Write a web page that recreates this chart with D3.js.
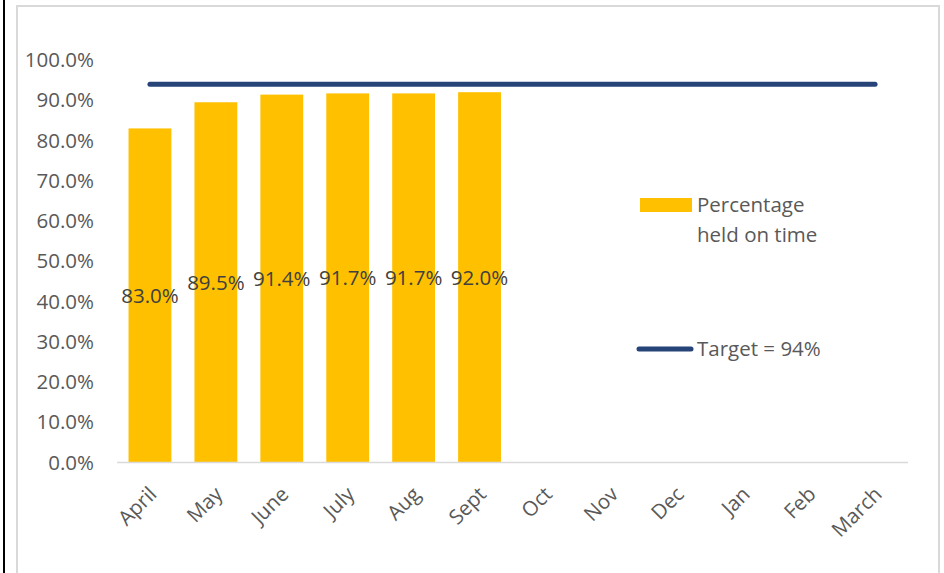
<!DOCTYPE html>
<html>
<head>
<meta charset="utf-8">
<script src="https://cdn.jsdelivr.net/npm/d3@7/dist/d3.min.js"></script>
<style>
  html, body { margin: 0; padding: 0; background: #ffffff; }
  svg { display: block; }
  text { font-family: "Open Sans", "Noto Sans", sans-serif; }
</style>
</head>
<body>
<svg id="chart" width="944" height="573"></svg>
<script>
// Monthly categories (financial year April–March)
const months = ["April", "May", "June", "July", "Aug", "Sept", "Oct", "Nov", "Dec", "Jan", "Feb", "March"];
// Percentage held on time, reported months only
const heldOnTime = [0.830, 0.895, 0.914, 0.917, 0.917, 0.920];
// Target level
const targetValue = 0.94;
// Y axis ticks
const yTicks = [0, 0.1, 0.2, 0.3, 0.4, 0.5, 0.6, 0.7, 0.8, 0.9, 1.0];
// Legend labels
const seriesLabel = ["Percentage", "held on time"];
const targetLabel = "Target = 94%";

const barColor = "#FFC000";
const targetColor = "#264478";
const textColor = "#595959";
const labelColor = "#404040";
const fontSize = "20.5px";

const svg = d3.select("#chart");

// Outer frame
svg.append("line")
  .attr("x1", 4).attr("x2", 4).attr("y1", 0).attr("y2", 573)
  .attr("stroke", "#000").attr("stroke-width", 2);
svg.append("path")
  .attr("d", "M17,580 V6 H939 V580")
  .attr("fill", "none").attr("stroke", "#d9d9d9").attr("stroke-width", 2);

const plot = { left: 117, right: 908, top: 60, bottom: 462.5 };

const x = d3.scaleBand()
  .domain(months)
  .range([plot.left, plot.right])
  .paddingInner(0.35)
  .paddingOuter(0.175);

const y = d3.scaleLinear()
  .domain([0, 1])
  .range([plot.bottom, plot.top]);

// Bars
svg.append("g")
  .selectAll("rect")
  .data(heldOnTime)
  .join("rect")
  .attr("x", (d, i) => x(months[i]))
  .attr("y", d => y(d))
  .attr("width", x.bandwidth())
  .attr("height", d => y(0) - y(d))
  .attr("fill", barColor);

// Baseline
svg.append("line")
  .attr("x1", plot.left).attr("x2", plot.right)
  .attr("y1", y(0)).attr("y2", y(0))
  .attr("stroke", "#d9d9d9").attr("stroke-width", 1.5);

// Target line across the full year
const centre = m => x(m) + x.bandwidth() / 2;
svg.append("path")
  .datum(months)
  .attr("d", d3.line().x(m => centre(m)).y(() => y(targetValue)))
  .attr("fill", "none")
  .attr("stroke", targetColor)
  .attr("stroke-width", 5)
  .attr("stroke-linecap", "round");

// Y axis labels
const yAxis = d3.axisLeft(y)
  .tickValues(yTicks)
  .tickFormat(d3.format(".1%"))
  .tickSize(0)
  .tickPadding(0);
const yg = svg.append("g")
  .attr("transform", `translate(94,0)`)
  .call(yAxis);
yg.select(".domain").remove();
yg.selectAll("text")
  .attr("fill", textColor)
  .style("font-size", fontSize)
  .style("font-family", "\"Open Sans\", sans-serif");

// X axis labels, rotated
const xAxis = d3.axisBottom(x).tickSize(0).tickPadding(0);
const xg = svg.append("g")
  .attr("transform", `translate(0,${y(0)})`)
  .call(xAxis);
xg.select(".domain").remove();
xg.selectAll("text")
  .attr("fill", textColor)
  .style("font-size", fontSize)
  .style("font-family", "\"Open Sans\", sans-serif")
  .attr("text-anchor", "end")
  .attr("dy", null)
  .attr("y", 0)
  .attr("transform", "translate(8,33) rotate(-45)");

// Value labels centred in each bar
svg.append("g")
  .selectAll("text")
  .data(heldOnTime)
  .join("text")
  .attr("x", (d, i) => centre(months[i]))
  .attr("y", d => (y(d) + y(0)) / 2)
  .attr("dy", "0.35em")
  .attr("text-anchor", "middle")
  .attr("fill", labelColor)
  .style("font-size", fontSize)
  .text(d => d3.format(".1%")(d));

// Legend
const lg = svg.append("g");
lg.append("rect")
  .attr("x", 640).attr("y", 198).attr("width", 52).attr("height", 14)
  .attr("fill", barColor);
lg.append("text")
  .attr("x", 697).attr("y", 212)
  .attr("fill", textColor)
  .style("font-size", fontSize)
  .selectAll("tspan")
  .data(seriesLabel)
  .join("tspan")
  .attr("x", 697)
  .attr("dy", (d, i) => i === 0 ? 0 : 30)
  .text(d => d);
lg.append("line")
  .attr("x1", 639).attr("x2", 691).attr("y1", 349).attr("y2", 349)
  .attr("stroke", targetColor).attr("stroke-width", 5)
  .attr("stroke-linecap", "round");
lg.append("text")
  .attr("x", 697).attr("y", 356)
  .attr("fill", textColor)
  .style("font-size", fontSize)
  .text(targetLabel);
</script>
</body>
</html>
